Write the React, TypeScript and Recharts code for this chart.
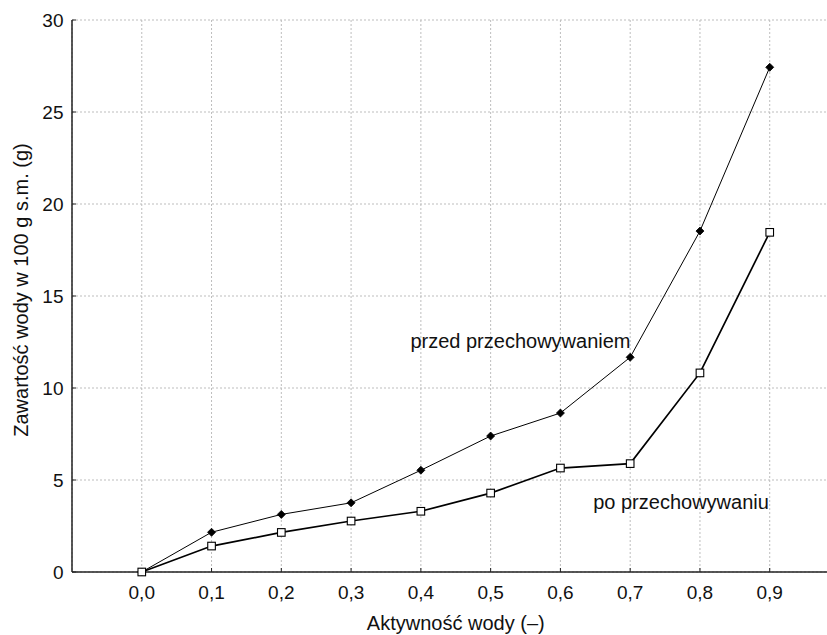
import React from 'react';
import { LineChart, Line, XAxis, YAxis, CartesianGrid, ReferenceDot } from 'recharts';

const aw = [0, 0.1, 0.2, 0.3, 0.4, 0.5, 0.6, 0.7, 0.8, 0.9];
const przed = [0, 2.16, 3.13, 3.76, 5.53, 7.39, 8.64, 11.67, 18.53, 27.43];
const po = [0, 1.41, 2.15, 2.77, 3.3, 4.29, 5.65, 5.89, 10.82, 18.46];
const xTicks = [0, 0.1, 0.2, 0.3, 0.4, 0.5, 0.6, 0.7, 0.8, 0.9];
const yTicks = [0, 5, 10, 15, 20, 25, 30];

const data = aw.map((x, i) => ({ x, przed: przed[i], po: po[i] }));

const FONT = '"Liberation Sans", Arial, sans-serif';

const Diamond = (props: any) => {
  const { cx, cy } = props;
  if (cx == null || cy == null) return null;
  const r = 4;
  return <path d={`M${cx},${cy - r}L${cx + r},${cy}L${cx},${cy + r}L${cx - r},${cy}Z`} fill="#000" stroke="#000" strokeWidth={0.8} />;
};

const Square = (props: any) => {
  const { cx, cy } = props;
  if (cx == null || cy == null) return null;
  const s = 3.8;
  return <rect x={cx - s} y={cy - s} width={s * 2} height={s * 2} fill="#fff" stroke="#000" strokeWidth={1.1} />;
};

const note = (text: string) => (props: any) => {
  const { viewBox } = props;
  return (
    <text x={viewBox.x} y={viewBox.y} fontSize={20} fontFamily={FONT} fill="#111">
      {text}
    </text>
  );
};

export default function App() {
  return (
    <div style={{ position: 'absolute', left: 0, top: 0, width: 827, height: 635, overflow: 'hidden', background: '#fff' }}>
      <LineChart width={845} height={635} data={data} margin={{ top: 20, right: 5.5, bottom: 0, left: 0 }}>
        <CartesianGrid stroke="#bdbdbd" strokeDasharray="2 2" />
        <XAxis
          xAxisId="top"
          orientation="top"
          dataKey="x"
          type="number"
          domain={[-0.1, 1.0]}
          ticks={xTicks}
          height={0}
          tickSize={-4}
          tickFormatter={() => ''}
          axisLine={{ stroke: '#111', strokeWidth: 1.5 }}
          tickLine={{ stroke: '#111' }}
        />
        <XAxis
          dataKey="x"
          type="number"
          domain={[-0.1, 1.0]}
          ticks={xTicks}
          height={63}
          tickSize={-4}
          tickMargin={17.5}
          tickFormatter={(v: number) => v.toFixed(1).replace('.', ',')}
          tick={{ fontSize: 19, fontFamily: FONT, fill: '#111' }}
          axisLine={{ stroke: '#222', strokeWidth: 1.5 }}
          tickLine={{ stroke: '#222' }}
          label={{
            content: (p: any) => (
              <text x={p.viewBox.x + p.viewBox.width / 2} y={p.viewBox.y + 58} textAnchor="middle" fontSize={20} fontFamily={FONT} fill="#111">
                Aktywność wody (–)
              </text>
            ),
          }}
        />
        <YAxis
          type="number"
          domain={[0, 30]}
          ticks={yTicks}
          width={72}
          tickSize={-4}
          tickMargin={12.5}
          tick={{ fontSize: 19, fontFamily: FONT, fill: '#111' }}
          axisLine={{ stroke: '#222', strokeWidth: 1.5 }}
          tickLine={{ stroke: '#222' }}
          label={{
            content: (p: any) => {
              const cy = p.viewBox.y + p.viewBox.height / 2 - 6;
              return (
                <text x={28} y={cy} transform={`rotate(-90, 28, ${cy})`} textAnchor="middle" fontSize={20} fontFamily={FONT} fill="#111">
                  Zawartość wody w 100 g s.m. (g)
                </text>
              );
            },
          }}
        />
        <Line
          dataKey="przed"
          stroke="#000"
          strokeWidth={1}
          dot={<Diamond />}
          activeDot={false}
          isAnimationActive={false}
        />
        <Line
          dataKey="po"
          stroke="#000"
          strokeWidth={1.7}
          dot={<Square />}
          activeDot={false}
          isAnimationActive={false}
        />
        <ReferenceDot x={0.385} y={12.17} r={0} fill="none" stroke="none" label={{ content: note('przed przechowywaniem') }} />
        <ReferenceDot x={0.647} y={3.42} r={0} fill="none" stroke="none" label={{ content: note('po przechowywaniu') }} />
      </LineChart>
    </div>
  );
}
